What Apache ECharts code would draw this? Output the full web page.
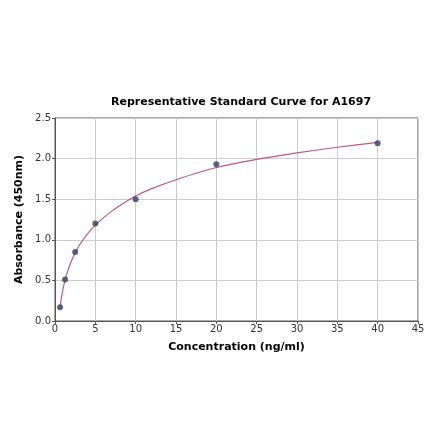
<!DOCTYPE html>
<html>
<head>
<meta charset="utf-8">
<script src="https://cdn.jsdelivr.net/npm/echarts@6/dist/echarts.min.js"></script>
<style>html,body{margin:0;padding:0;background:#fff}#c{width:440px;height:441px}</style>
</head>
<body>
<div id="c"></div>
<script>
var concentrations = [0.625, 1.25, 2.5, 5, 10, 20, 40];
var absorbances = [0.17, 0.51, 0.85, 1.20, 1.50, 1.93, 2.19];
var curveX = [0.625, 0.8, 1, 1.25, 1.6, 2, 2.5, 3, 4, 5, 6, 7, 8, 10, 12, 15, 20, 25, 30, 35, 40];
var curveY = [0.16, 0.29, 0.40, 0.50, 0.62, 0.73, 0.84, 0.93, 1.07, 1.18, 1.27, 1.35, 1.42, 1.54, 1.63, 1.74, 1.89, 1.99, 2.07, 2.14, 2.20];
var titleText = 'Representative Standard Curve for A1697';
var xName = 'Concentration (ng/ml)';
var yName = 'Absorbance (450nm)';

var chart = echarts.init(document.getElementById('c'), null, {renderer: 'canvas'});
var font = 'DejaVu Sans';
chart.setOption({
  backgroundColor: '#fff',
  animation: false,
  title: {
    text: titleText, left: 236, top: 92, textAlign: 'center',
    textStyle: {fontFamily: font, fontSize: 11, fontWeight: 'bold', color: '#000'}
  },
  grid: {left: 55, right: 22, top: 118, bottom: 120, show: true, borderColor: '#555', borderWidth: 1},
  xAxis: {
    type: 'value', min: 0, max: 45, interval: 5,
    name: xName, nameLocation: 'middle', nameGap: 21,
    nameTextStyle: {fontFamily: font, fontSize: 11, fontWeight: 'bold', color: '#000'},
    axisLine: {show: true, lineStyle: {color: '#555'}},
    axisTick: {show: true, length: 3, lineStyle: {color: '#555'}},
    axisLabel: {fontFamily: font, fontSize: 10, color: '#333', margin: 3},
    splitLine: {show: true, lineStyle: {color: '#ccc', width: 1}}
  },
  yAxis: {
    type: 'value', min: 0, max: 2.5, interval: 0.5,
    name: yName, nameLocation: 'middle', nameGap: 26,
    nameTextStyle: {fontFamily: font, fontSize: 11, fontWeight: 'bold', color: '#000'},
    axisLine: {show: true, lineStyle: {color: '#555'}},
    axisTick: {show: true, length: 3, lineStyle: {color: '#555'}},
    axisLabel: {fontFamily: font, fontSize: 10, color: '#333', margin: 4,
      formatter: function (v) { return v.toFixed(1); }},
    splitLine: {show: true, lineStyle: {color: '#ccc', width: 1}}
  },
  series: [
    {
      type: 'line', data: curveX.map(function (x, i) { return [x, curveY[i]]; }),
      smooth: 0.3, showSymbol: false, symbol: 'none',
      lineStyle: {color: '#c0587a', width: 1.2}, z: 2
    },
    {
      type: 'scatter', data: concentrations.map(function (x, i) { return [x, absorbances[i]]; }),
      symbol: 'circle', symbolSize: 6,
      itemStyle: {color: '#2c3e66'}, z: 3
    }
  ]
});
</script>
</body>
</html>
